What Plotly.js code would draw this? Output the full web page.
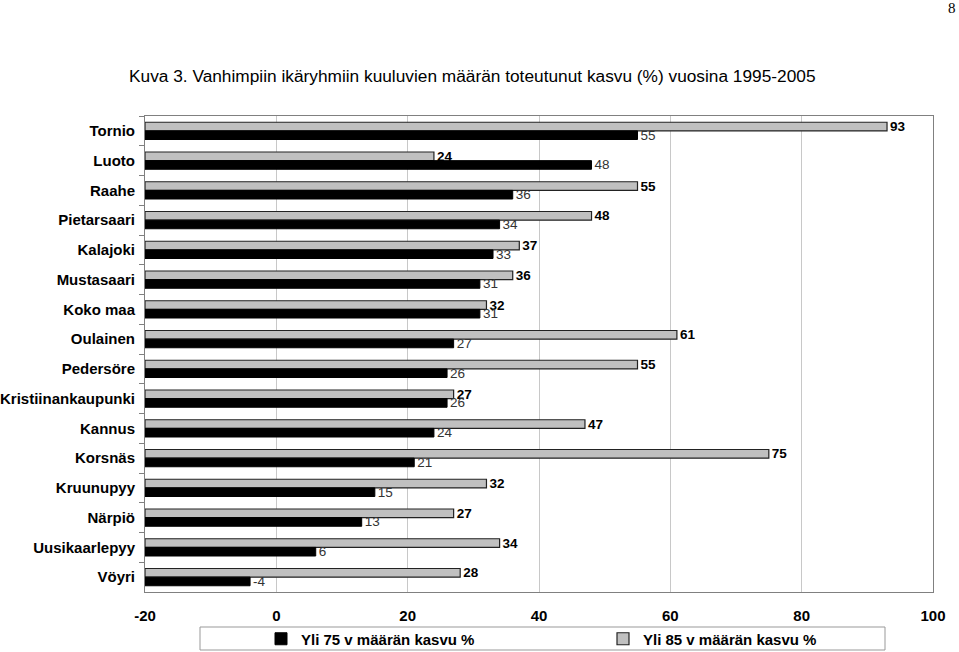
<!DOCTYPE html>
<html>
<head>
<meta charset="utf-8">
<script src="https://cdn.plot.ly/plotly-3.0.1.min.js"></script>
<style>html,body{margin:0;padding:0;background:#fff;}#chart{width:959px;height:652px;}</style>
</head>
<body>
<div id="chart"></div>
<script>
const categories = ["Tornio","Luoto","Raahe","Pietarsaari","Kalajoki","Mustasaari","Koko maa","Oulainen","Pedersöre","Kristiinankaupunki","Kannus","Korsnäs","Kruunupyy","Närpiö","Uusikaarlepyy","Vöyri"];
const yli85 = [93,24,55,48,37,36,32,61,55,27,47,75,32,27,34,28];
const yli75 = [55,48,36,34,33,31,31,27,26,26,24,21,15,13,6,-4];
const xTicks = [-20,0,20,40,60,80,100];
const seriesNames = ["Yli 75 v määrän kasvu %","Yli 85 v määrän kasvu %"];
const axisMin = -20, axisMax = 100;

const FONT = "Liberation Sans, Arial, sans-serif";

const traces = [
  {
    type: "bar", orientation: "h", name: seriesNames[1],
    y: categories, x: yli85.map(v => v - axisMin), base: axisMin,
    text: yli85.map(String), textposition: "outside", constraintext: "none", cliponaxis: false,
    textfont: {family: FONT, size: 13.5, color: "#000", weight: "bold"},
    marker: {color: "#c0c0c0", line: {color: "#222", width: 1.2}},
    legendrank: 2, hoverinfo: "skip"
  },
  {
    type: "bar", orientation: "h", name: seriesNames[0],
    y: categories, x: yli75.map(v => v - axisMin), base: axisMin,
    text: yli75.map(String), textposition: "outside", constraintext: "none", cliponaxis: false,
    textfont: {family: FONT, size: 13.5, color: "#333"},
    marker: {color: "#000", line: {color: "#000", width: 1}},
    legendrank: 1, hoverinfo: "skip"
  }
];

const W = 959, H = 652;
const L = 145, R = 933, T = 116, B = 592;
const px2x = p => (p - L) / (R - L);
const px2y = p => (B - p) / (B - T);

const layout = {
  width: W, height: H,
  margin: {l: L, r: W - R, t: T, b: H - B, pad: 0},
  paper_bgcolor: "#fff", plot_bgcolor: "#fff",
  barmode: "group", bargap: 0.42, bargroupgap: 0,
  showlegend: true,
  font: {family: FONT, color: "#000"},
  xaxis: {
    range: [axisMin, axisMax], tickvals: xTicks, ticktext: xTicks.map(String),
    showgrid: true, gridcolor: "#c8c8c8", gridwidth: 1, zeroline: false,
    showline: true, mirror: true, linecolor: "#808080", linewidth: 1,
    ticks: "", ticklabelstandoff: 10,
    tickfont: {family: FONT, size: 15, color: "#000", weight: "bold"}
  },
  yaxis: {
    type: "category", autorange: "reversed",
    showgrid: false, zeroline: false,
    showline: true, mirror: true, linecolor: "#808080", linewidth: 1,
    ticks: "outside", tickson: "boundaries", ticklen: 5, tickcolor: "#808080",
    ticklabelstandoff: 6,
    tickfont: {family: FONT, size: 15, color: "#000", weight: "bold"}
  },
  legend: {
    orientation: "h", xref: "container", yref: "container",
    x: 261 / W, xanchor: "left", y: 1 - 639 / H, yanchor: "middle",
    entrywidth: 297, entrywidthmode: "pixels",
    bgcolor: "rgba(0,0,0,0)", borderwidth: 0,
    font: {family: FONT, size: 15, color: "#000", weight: "bold"},
    itemclick: false
  },
  shapes: [
    {type: "rect", xref: "paper", yref: "paper",
     x0: px2x(200), x1: px2x(885), y0: px2y(627), y1: px2y(650),
     line: {color: "#999", width: 1}, fillcolor: "rgba(0,0,0,0)"}
  ],
  annotations: [
    {text: "Kuva 3. Vanhimpiin ikäryhmiin kuuluvien määrän toteutunut kasvu (%) vuosina 1995-2005",
     xref: "paper", yref: "paper", x: px2x(127), y: px2y(76), xanchor: "left", yanchor: "middle",
     showarrow: false, font: {family: FONT, size: 17.3, color: "#000"}},
    {text: "8", xref: "paper", yref: "paper", x: px2x(952), y: px2y(8), xanchor: "center", yanchor: "middle",
     showarrow: false, font: {family: "Liberation Serif, Times New Roman, serif", size: 15, color: "#000"}}
  ]
};

Plotly.newPlot("chart", traces, layout, {displayModeBar: false, staticPlot: true});
</script>
</body>
</html>
